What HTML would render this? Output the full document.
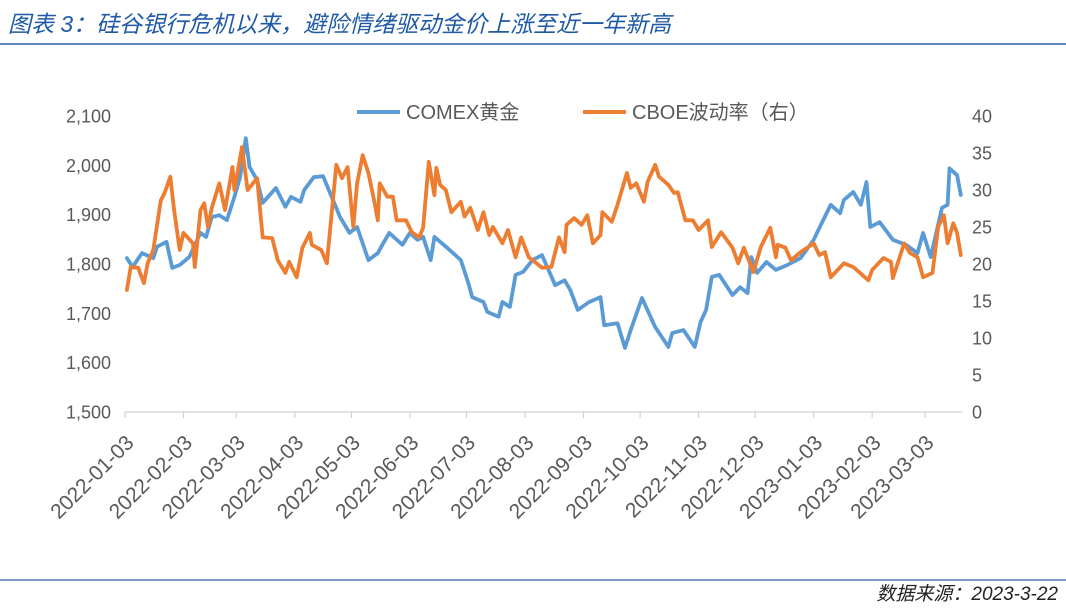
<!DOCTYPE html>
<html><head><meta charset="utf-8"><style>
body{margin:0;width:1066px;height:606px;background:#fff;overflow:hidden;font-family:"Liberation Sans","Noto Sans CJK SC",sans-serif;}
</style></head><body>
<svg width="1066" height="606" id="chart" xmlns="http://www.w3.org/2000/svg">
<text x="8" y="32" font-size="23" font-style="italic" fill="#1f5aa6" font-family="Liberation Sans, Noto Sans CJK SC, sans-serif">图表 3：硅谷银行危机以来，避险情绪驱动金价上涨至近一年新高</text>
<line x1="0" y1="44" x2="1066" y2="44" stroke="#2f5fa8" stroke-width="1.5"/>
<line x1="0" y1="580" x2="1066" y2="580" stroke="#2f5fa8" stroke-width="1.2"/>
<text x="1058" y="600" text-anchor="end" font-size="19" font-style="italic" fill="#222" font-family="Liberation Sans, Noto Sans CJK SC, sans-serif">数据来源：2023-3-22</text>
<g id="legend">
<line x1="357" y1="112" x2="400" y2="112" stroke="#5b9bd5" stroke-width="4"/>
<text x="406" y="119" font-size="20" fill="#595959">COMEX黄金</text>
<line x1="583" y1="112" x2="626" y2="112" stroke="#ed7d31" stroke-width="4"/>
<text x="632" y="119" font-size="20" fill="#595959">CBOE波动率（右）</text>
</g>
<g id="axes"></g>
<g id="series"></g>
</svg>
<script>
const monthLabels=["2022-01-03","2022-02-03","2022-03-03","2022-04-03","2022-05-03","2022-06-03","2022-07-03","2022-08-03","2022-09-03","2022-10-03","2022-11-03","2022-12-03","2023-01-03","2023-02-03","2023-03-03"];
const monthDays=[0,31,59,90,120,151,181,212,243,273,304,334,365,396,424];
const leftTicks=[1500,1600,1700,1800,1900,2000,2100];
const leftTickLabels=["1,500","1,600","1,700","1,800","1,900","2,000","2,100"];
const rightTicks=[0,5,10,15,20,25,30,35,40];
const goldDays=[1,4,9,15,17,22,25,29,34,40,43,46,50,54,58,61,64,66,70,73,80,85,88,93,95,100,105,108,114,119,123,129,134,137,140,147,151,155,158,162,164,171,178,182,184,190,192,198,200,204,207,211,216,221,228,233,236,240,246,252,254,261,265,268,274,281,288,290,296,302,305,308,311,315,322,326,330,332,335,340,345,351,358,365,368,374,379,381,386,390,393,395,400,407,414,420,423,427,433,436,437,441,443];
const goldValues=[1812,1794,1822,1812,1835,1845,1792,1798,1814,1863,1855,1895,1899,1889,1936,1976,2055,1997,1970,1924,1954,1916,1936,1926,1950,1976,1978,1950,1895,1863,1875,1808,1822,1843,1863,1839,1863,1849,1855,1808,1855,1832,1808,1761,1733,1723,1703,1693,1723,1713,1778,1784,1808,1818,1757,1767,1747,1707,1723,1733,1676,1680,1630,1666,1731,1672,1632,1660,1666,1632,1682,1707,1774,1778,1737,1753,1741,1814,1782,1804,1788,1798,1812,1849,1873,1920,1903,1930,1946,1920,1966,1875,1885,1849,1839,1822,1863,1814,1914,1920,1994,1980,1940];
const vixDays=[1,3,7,10,12,15,19,21,24,26,29,31,36,37,40,42,44,46,50,53,57,58,62,65,70,73,78,81,85,87,91,94,98,99,104,107,110,112,115,118,121,123,126,129,132,134,135,139,142,144,149,152,156,158,161,164,165,167,170,173,178,180,183,187,190,193,195,200,203,207,210,214,221,226,230,233,234,238,242,245,248,252,253,258,261,266,268,271,275,277,281,283,288,291,293,297,301,304,309,311,316,322,325,328,333,337,342,345,346,350,353,358,365,368,371,374,381,386,394,396,402,406,407,413,416,420,423,428,431,434,436,439,441,443];
const vixValues=[16.5,19.6,19.5,17.4,20.1,21.9,28.6,29.6,31.8,27.3,21.9,24.2,22.8,19.6,27.3,28.2,25,27.6,30.9,27.3,33.1,30,35.8,30,31.6,23.6,23.5,20.5,18.8,20.3,18.2,22.2,24.2,22.6,21.9,20.1,28,33.4,31.6,33.1,25,30.9,34.7,32.3,28.6,25.9,30.9,29.1,29.1,25.9,25.9,24.3,23.6,24.9,33.8,29.3,33,30.7,30,27,28.4,26.4,27.6,24.6,27,23.9,25,22.8,24.6,20.9,23.6,20.9,19.5,19.6,23.6,21.6,25.3,26.2,25.3,26.6,22.8,23.9,27,25.7,28,32.3,30.3,30.9,28.4,31.1,33.4,31.8,30.7,29.6,29.7,25.9,25.9,24.6,25.9,22.3,24.3,22.2,20.1,22.2,18.9,22.3,24.9,20.9,22.6,22.2,20.5,21.6,22.8,21.2,21.6,18.2,20.1,19.6,17.8,19.2,20.8,20.3,18.1,22.8,21.5,20.9,18.2,18.8,25,26.6,22.8,25.5,24.2,21.2];

const NS="http://www.w3.org/2000/svg";
const X0=125,PXD=800/424,YT=116,YB=412;
const xs=d=>X0+d*PXD;
const yl=v=>YB-(v-1500)/600*(YB-YT);
const yr=v=>YB-v/40*(YB-YT);
const axes=document.getElementById('axes'),series=document.getElementById('series');
function mk(tag,attrs,parent,text){const e=document.createElementNS(NS,tag);for(const k in attrs)e.setAttribute(k,attrs[k]);if(text!==undefined)e.textContent=text;parent.appendChild(e);return e;}

const xl=mk('line',{x1:X0,y1:YB,x2:962,y2:YB,stroke:'#d0d0d0','stroke-width':1.2},axes);


monthDays.forEach((d,i)=>{
  const x=xs(d);
  const t=mk('line',{x1:x,y1:YB,x2:x,y2:YB+6,stroke:'#d0d0d0','stroke-width':1.2},axes);
  
  
  const ax=x+10,ay=YB+32;
  const lb=mk('text',{x:ax,y:ay,'text-anchor':'end','font-size':21,fill:'#595959',transform:`rotate(-45 ${ax} ${ay})`},axes,monthLabels[i]);
  
  
});
leftTicks.forEach((v,i)=>{
  const lb=mk('text',{x:111,y:yl(v)+6.5,'text-anchor':'end','font-size':18,fill:'#595959'},axes,leftTickLabels[i]);
  
  
});
rightTicks.forEach(v=>{
  const lb=mk('text',{x:972,y:yr(v)+6.5,'text-anchor':'start','font-size':18,fill:'#595959'},axes,String(v));
  
  
});
const gp=mk('polyline',{points:goldDays.map((d,i)=>xs(d).toFixed(1)+','+yl(goldValues[i]).toFixed(1)).join(' '),fill:'none',stroke:'#5b9bd5','stroke-width':3.8,'stroke-linejoin':'round','stroke-linecap':'round'},series);


const vp=mk('polyline',{points:vixDays.map((d,i)=>xs(d).toFixed(1)+','+yr(vixValues[i]).toFixed(1)).join(' '),fill:'none',stroke:'#ed7d31','stroke-width':3.8,'stroke-linejoin':'round','stroke-linecap':'round'},series);


</script>
</body></html>
